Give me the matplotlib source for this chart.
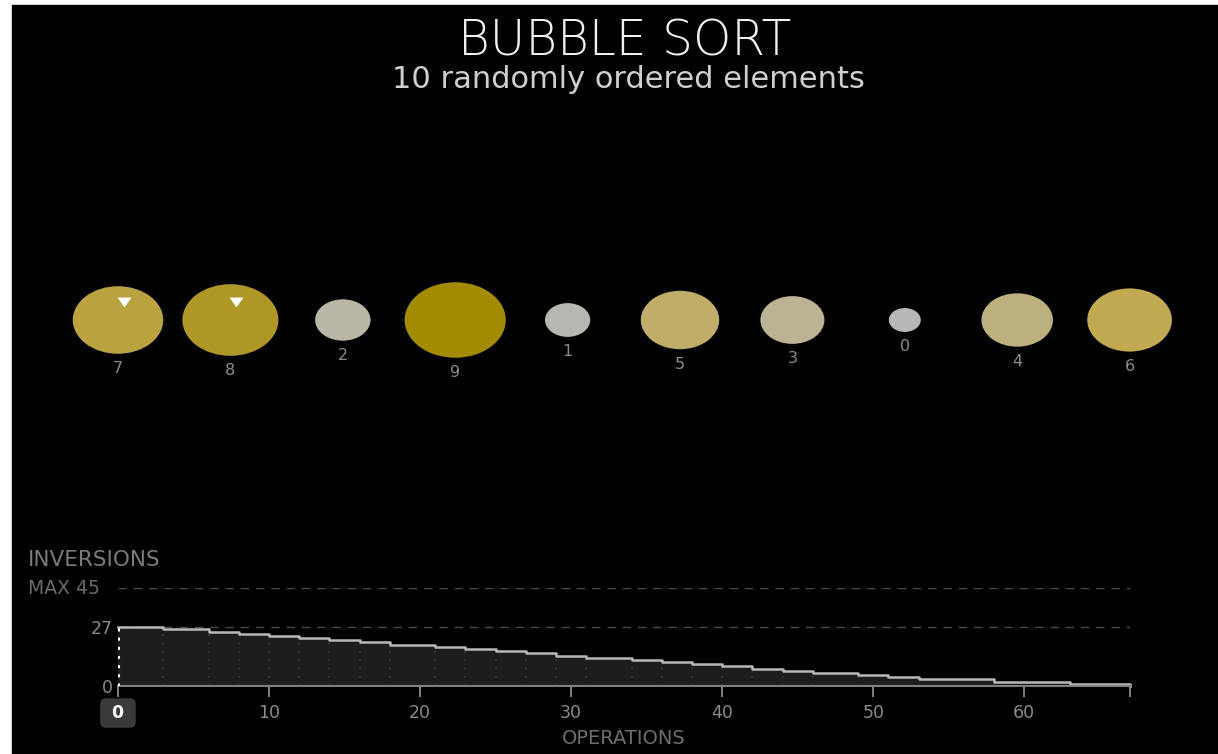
import numpy as np
import matplotlib
matplotlib.use('Agg')
import matplotlib.pyplot as plt
from matplotlib.patches import Circle, Rectangle
from matplotlib.colors import LinearSegmentedColormap
import matplotlib.transforms as mtransforms

# elements of the array in their current order
elements = [7, 8, 2, 9, 1, 5, 3, 0, 4, 6]
# the pair being compared right now (index positions)
compare_pair = [0, 1]

# inversion count over operations (step line)
step_ops = [0, 3, 6, 8, 10, 12, 14, 16, 18, 21, 23, 25, 27, 29, 31, 34, 36,
            38, 40, 42, 44, 46, 49, 51, 53, 58, 63, 67]
inversions = [27, 26, 25, 24, 23, 22, 21, 20, 19, 18, 17, 16, 15, 14, 13, 12,
              11, 10, 9, 8, 7, 6, 5, 4, 3, 2, 1, 0]
max_inversions = 45
x_ticks = [0, 10, 20, 30, 40, 50, 60, 67]
x_tick_labels = [' 0 ', '10', '20', '30', '40', '50', '60', '']

W, H = 1218, 754
plt.rcParams['font.family'] = ['DejaVu Sans']

fig = plt.figure(figsize=(W / 100, H / 100), dpi=100, facecolor='white')
# black page (thin white margin at top and left like the screenshot)
fig.add_artist(Rectangle((12 / W, 0), 1 - 12 / W, (H - 5) / H,
                         transform=fig.transFigure, color='black', zorder=0))

def fx(px):
    return px / W

def fy(py):
    return 1 - py / H

# titles
fig.text(fx(625), fy(56), 'BUBBLE SORT', ha='center', va='baseline',
         fontsize=35, fontweight='light', color='#f0f0f0')
fig.text(fx(628), fy(88), '10 randomly ordered elements', ha='center',
         va='baseline', fontsize=22, color='#cfcfcf')

# bubbles
col_px = 112.4
y_px = col_px / 1.34
bx = fig.add_axes([fx(118 - col_px / 2), fy(420), 10 * col_px / W, 270 / H])
bx.set_xlim(-0.5, 9.5)
bx.set_ylim(-100 / y_px, 170 / y_px)
bx.axis('off')

cmap = LinearSegmentedColormap.from_list(
    'greygold', [(0, '#b8b8b8'), (0.2, '#bab7ac'), (0.45, '#bcb07e'),
                 (0.65, '#c2ab55'), (0.85, '#b59d36'), (1.0, '#a38b00')])

for i, v in enumerate(elements):
    r = 16 * np.sqrt(v + 1) / col_px
    bx.add_patch(Circle((i, 0), r, color=cmap(v / 9), lw=0))
    bx.text(i, -r - 15 / y_px, str(v), ha='center', va='center',
            fontsize=11.5, color='#8c8c8c')

tri = [(-1.4, 1), (1.4, 1), (0, -1)]
bx.plot([p + 0.05 for p in compare_pair], [18 / y_px] * len(compare_pair),
        ls='none', marker=tri, markersize=10, color='white', mec='none')

# inversions chart
ix = fig.add_axes([fx(118), fy(686), (1130 - 118) / W, (686 - 588) / H])
ix.set_facecolor('none')
ix.set_xlim(0, 67)
ix.set_ylim(0, max_inversions)
for s in ['top', 'right', 'left']:
    ix.spines[s].set_visible(False)
ix.spines['bottom'].set_color('#808080')
ix.spines['bottom'].set_linewidth(1.5)

dash = (0, (6, 5))
ix.axhline(max_inversions, color='#4a4a4a', lw=1, ls=dash)
ix.axhline(inversions[0], color='#4a4a4a', lw=1, ls=dash)

ix.fill_between(step_ops, inversions, step='post', color='#1d1d1d', lw=0)
ix.vlines(step_ops[1:], 0, inversions[:-1], colors='#3a3a3a',
          linestyles=(0, (1, 4)), lw=1.2)
ix.step(step_ops, inversions, where='post', color='#b8b8b8', lw=1.8,
        clip_on=False)
ix.vlines(0, 0, inversions[0], colors='white', linestyles=(0, (1, 2)),
          lw=2.2, zorder=4)

ix.set_xticks(x_ticks)
ix.set_xticklabels(x_tick_labels)
ix.tick_params(axis='x', length=8, width=1.3, color='#8a8a8a',
               labelcolor='#8a8a8a', labelsize=12.5, pad=5)
ix.xaxis.get_major_ticks()[0].tick1line.set_color('white')
zero = ix.get_xticklabels()[0]
zero.set_color('white')
zero.set_fontweight('bold')
zero.set_bbox(dict(boxstyle='round,pad=0.33', fc='#3a3a3a', ec='none'))

ix.set_yticks([0, inversions[0]])
ix.set_yticklabels(['0', str(inversions[0])])
ix.tick_params(axis='y', length=0, pad=4, labelcolor='#8a8a8a',
               labelsize=12.5)

tr = mtransforms.blended_transform_factory(fig.transFigure, ix.transData)
ix.text(fx(28), max_inversions, 'MAX 45', transform=tr, ha='left',
        va='center', fontsize=13.5, color='#6a6a6a')
fig.text(fx(28), fy(560), 'INVERSIONS', ha='left', va='center',
         fontsize=15.5, color='#7a7a7a')
ix.set_xlabel('OPERATIONS', fontsize=14, color='#6e6e6e', labelpad=5)

fig.savefig('out.png', dpi=100, facecolor=fig.get_facecolor())
